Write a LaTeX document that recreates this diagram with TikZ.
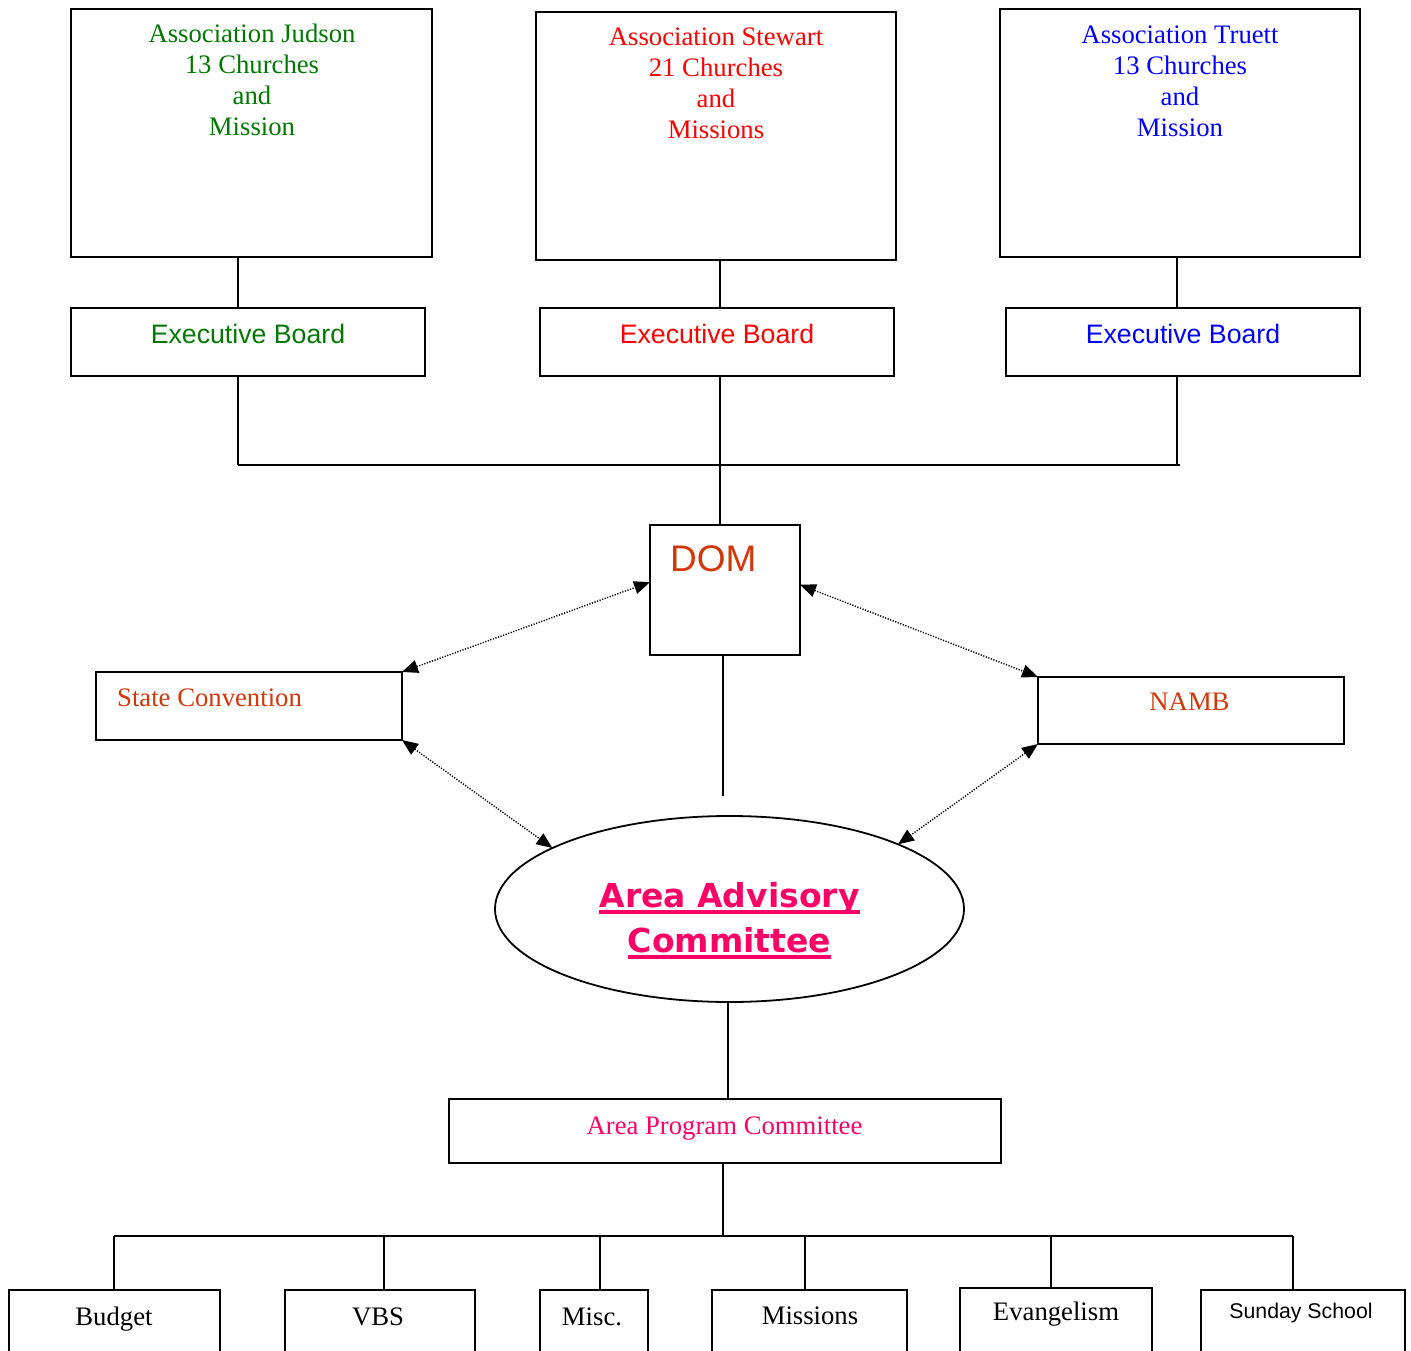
\documentclass[tikz,border=0pt]{standalone}
\usepackage{fontspec}
\setmainfont{Liberation Serif}
\setsansfont{Liberation Sans}
\newfontfamily\aacfont{DejaVu Sans}
\usetikzlibrary{arrows.meta,shapes.geometric}
\definecolor{jgreen}{RGB}{0,120,0}
\definecolor{sred}{RGB}{255,0,0}
\definecolor{tblue}{RGB}{0,0,255}
\definecolor{orng}{RGB}{210,55,10}
\definecolor{pinkc}{RGB}{255,0,102}
\newcommand\fsz[2]{\fontsize{#1}{#2}\selectfont}
\newsavebox\myulbox
\newcommand\myul[1]{\sbox\myulbox{#1}\rlap{\usebox\myulbox}\rule[-6.6pt]{\wd\myulbox}{4pt}}
\begin{document}
\begin{tikzpicture}[x=1pt,y=-1pt,
  box/.style={draw, line width=1.8pt, inner sep=0pt, outer sep=0pt},
  txt/.style={inner sep=0pt, anchor=base},
  conn/.style={line width=1.7pt},
  dotarr/.style={line width=1.4pt, dash pattern=on 1.2pt off 1.5pt,
     {Triangle[length=16pt,width=13pt]}-{Triangle[length=16pt,width=13pt]}},
  serif26/.style={font=\rmfamily\fsz{26.7}{30.7}},
  sans26/.style={font=\sffamily\fsz{26.7}{30.7}}]
\useasboundingbox (0,0) rectangle (1411,1351);
\clip (0,0) rectangle (1411,1351);

% top association boxes
\node[box, minimum width=361pt, minimum height=248pt] (jud) at (251.5,133) {};
\node[box, minimum width=360pt, minimum height=248pt] (stw) at (716,136) {};
\node[box, minimum width=360pt, minimum height=248pt] (tru) at (1180,133) {};
\node[txt, serif26, text=jgreen, align=center] (judt) at (252,135.1) {Association Judson\\13 Churches\\and\\Mission};
\node[txt, serif26, text=sred, align=center] (stwt) at (716,138.1) {Association Stewart\\21 Churches\\and\\Missions};
\node[txt, serif26, text=tblue, align=center] (trut) at (1180,136.1) {Association Truett\\13 Churches\\and\\Mission};

% executive boards
\node[box, minimum width=354pt, minimum height=68pt] (ebj) at (248,342) {};
\node[box, minimum width=354pt, minimum height=68pt] (ebs) at (717,342) {};
\node[box, minimum width=354pt, minimum height=68pt] (ebt) at (1183,342) {};
\node[txt, sans26, text=jgreen] (ebjt) at (248,343) {Executive Board};
\node[txt, sans26, text=sred] (ebst) at (717,343) {Executive Board};
\node[txt, sans26, text=tblue] (ebtt) at (1183,343) {Executive Board};

% DOM
\node[box, minimum width=150pt, minimum height=130pt] (dom) at (725,590) {};
\node[txt, anchor=base west, font=\sffamily\fsz{37}{44}, text=orng] (domt) at (670,571) {DOM};

% state convention, NAMB
\node[box, minimum width=306pt, minimum height=68pt] (sc) at (249,706) {};
\node[txt, anchor=base west, serif26, text=orng] (sct) at (117,706.5) {State Convention};
\node[box, minimum width=306pt, minimum height=67pt] (namb) at (1191,710.5) {};
\node[txt, serif26, text=orng] (nambt) at (1189.5,710.5) {NAMB};

% area advisory committee
\node[box, ellipse, minimum width=469pt, minimum height=186pt] (aac) at (729.5,909) {};
\node[txt, font=\aacfont\bfseries\fsz{33}{45}, text=pinkc, align=center] (aact) at (729.5,952) {\myul{Area Advisory}\\\myul{Committee}};

% area program committee
\node[box, minimum width=552pt, minimum height=64pt] (apc) at (725,1131) {};
\node[txt, serif26, text=pinkc] (apct) at (724.5,1134) {Area Program Committee};

% bottom boxes
\node[box, minimum width=211pt, minimum height=90pt] (bud) at (114.5,1335) {};
\node[box, minimum width=190pt, minimum height=90pt] (vbs) at (380,1335) {};
\node[box, minimum width=108pt, minimum height=90pt] (misc) at (594,1335) {};
\node[box, minimum width=195pt, minimum height=90pt] (mis) at (809.5,1335) {};
\node[box, minimum width=192pt, minimum height=92pt] (eva) at (1056,1334) {};
\node[box, minimum width=204pt, minimum height=90pt] (ss) at (1303,1335) {};
\node[txt, serif26] (budt) at (114,1325) {Budget};
\node[txt, serif26] (vbst) at (378,1325) {VBS};
\node[txt, serif26] (misct) at (592,1325) {Misc.};
\node[txt, serif26] (mist) at (810,1324) {Missions};
\node[txt, serif26] (evat) at (1056,1320) {Evangelism};
\node[txt, font=\sffamily\fsz{21.3}{25}] (sst) at (1301,1318.5) {Sunday School};

% top connectors
\coordinate (jx) at (238,465);
\coordinate (sx) at (720,465);
\coordinate (tx) at (1177,465);
\coordinate (hr) at (1180,465);
\draw[conn] (jud.south -| jx) -- (ebj.north -| jx);
\draw[conn] (stw.south -| sx) -- (ebs.north -| sx);
\draw[conn] (tru.south -| tx) -- (ebt.north -| tx);
\draw[conn] (ebj.south -| jx) -- (jx);
\draw[conn] (ebt.south -| tx) -- (tx);
\draw[conn] (ebs.south -| sx) -- (dom.north -| sx);
\draw[conn] (jx) -- (hr);

% DOM to committee
\coordinate (domend) at (723,796);
\coordinate (aacx) at (728,1050);
\draw[conn] (dom.south -| domend) -- (domend);
\draw[conn] (aac.south -| aacx) -- (apc.north -| aacx);

% dotted arrows
\draw[dotarr] (sc.north east) -- (dom.174);
\draw[dotarr] (dom.4) -- (namb.north west);
\draw[dotarr] (sc.south east) -- (aac.161);
\draw[dotarr] (namb.south west) -- (aac.21);

% bottom bus
\coordinate (bus) at (723,1236);
\coordinate (d1) at (114,1236);
\coordinate (d2) at (384,1236);
\coordinate (d3) at (600,1236);
\coordinate (d4) at (805,1236);
\coordinate (d5) at (1051,1236);
\coordinate (d6) at (1293,1236);
\draw[conn] (apc.south -| bus) -- (bus);
\draw[conn] (d1) -- (d6);
\draw[conn] (d1) -- (bud.north -| d1);
\draw[conn] (d2) -- (vbs.north -| d2);
\draw[conn] (d3) -- (misc.north -| d3);
\draw[conn] (d4) -- (mis.north -| d4);
\draw[conn] (d5) -- (eva.north -| d5);
\draw[conn] (d6) -- (ss.north -| d6);
\end{tikzpicture}
\end{document}
